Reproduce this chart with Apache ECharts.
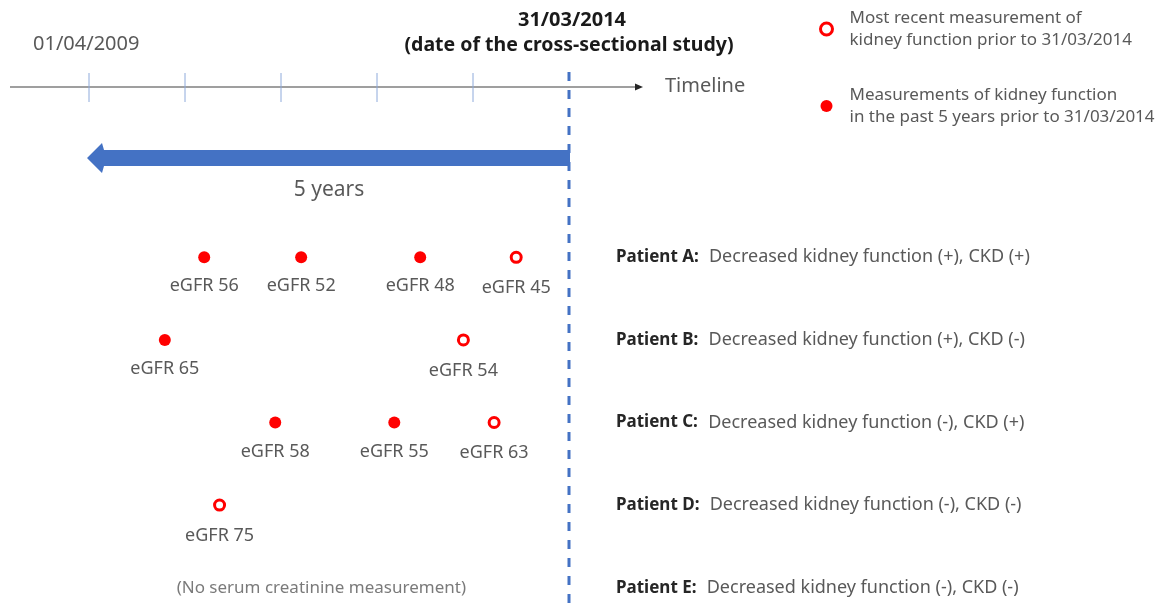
<!DOCTYPE html>
<html>
<head>
<meta charset="utf-8">
<script src="https://cdn.jsdelivr.net/npm/echarts@6/dist/echarts.min.js"></script>
<style>
    html, body { margin: 0; padding: 0; background: #fff; }
    #main { width: 1169px; height: 610px; }
</style>
</head>
<body>
<div id="main"></div>
<script>
    // x = years after 01/04/2009 (5 = 31/03/2014)
    var patients = ['A', 'B', 'C', 'D', 'E'];
    var findings = [
        'Decreased kidney function (+), CKD (+)',
        'Decreased kidney function (+), CKD (-)',
        'Decreased kidney function (-), CKD (+)',
        'Decreased kidney function (-), CKD (-)',
        'Decreased kidney function (-), CKD (-)'
    ];
    var pastPatient = ['A', 'A', 'A', 'B', 'C', 'C'];
    var pastYear = [1.20, 2.21, 3.45, 0.79, 1.94, 3.18];
    var pastEgfr = [56, 52, 48, 65, 58, 55];
    var recentPatient = ['A', 'B', 'C', 'D'];
    var recentYear = [4.45, 3.90, 4.22, 1.36];
    var recentEgfr = [45, 54, 63, 75];
    var yearTicks = [0, 1, 2, 3, 4];
    var noteYear = 2.42;

    var gray = '#595959';
    var font = '"Noto Sans", sans-serif';
    var recentName = 'Most recent measurement of\nkidney function prior to 31/03/2014';
    var pastName = 'Measurements of kidney function\nin the past 5 years prior to 31/03/2014';

    var egfrLabel = function (d) {
        return {
            show: true,
            position: 'bottom',
            distance: d,
            color: gray,
            fontSize: 18,
            lineHeight: 20,
            fontFamily: font,
            formatter: function (p) { return 'eGFR ' + p.value[2]; }
        };
    };

    var chart = echarts.init(document.getElementById('main'));
    var option = {
        animation: false,
        textStyle: { fontFamily: font },
        grid: { left: 89, width: 480, top: 216, height: 413, outerBoundsMode: 'none' },
        xAxis: {
            type: 'value', min: 0, max: 5,
            axisLine: { show: false }, axisTick: { show: false },
            axisLabel: { show: false }, splitLine: { show: false }
        },
        yAxis: {
            type: 'category',
            data: patients,
            inverse: true,
            position: 'right',
            axisLine: { show: false }, axisTick: { show: false }, splitLine: { show: false },
            axisLabel: {
                margin: 47,
                formatter: function (v, i) {
                    return '{b|Patient ' + v + ':}  {n|' + findings[i] + '}';
                },
                rich: {
                    b: { fontWeight: 'bold', color: '#262626', fontSize: 17, fontFamily: font },
                    n: { color: gray, fontSize: 18, fontFamily: font, padding: [0, 0, 0, 4] }
                }
            }
        },
        legend: {
            data: [
                { name: recentName, itemStyle: { color: '#fff', borderColor: '#ff0000', borderWidth: 3 } },
                { name: pastName }
            ],
            orient: 'vertical',
            left: 819, top: 7,
            padding: 0,
            itemWidth: 12, itemHeight: 12, itemGap: 33,
            icon: 'circle',
            selectedMode: false,
            textStyle: { color: gray, fontSize: 17, lineHeight: 22, fontFamily: font, padding: [0, 0, 0, 12] }
        },
        series: [
            {
                name: recentName,
                type: 'scatter',
                symbol: 'circle',
                symbolSize: 10,
                itemStyle: { color: '#fff', borderColor: '#ff0000', borderWidth: 3, opacity: 1 },
                label: egfrLabel(14),
                data: recentYear.map(function (x, i) { return [x, recentPatient[i], recentEgfr[i]]; })
            },
            {
                name: pastName,
                type: 'scatter',
                symbol: 'circle',
                symbolSize: 12,
                itemStyle: { color: '#ff0000', opacity: 1 },
                label: egfrLabel(13),
                data: pastYear.map(function (x, i) { return [x, pastPatient[i], pastEgfr[i]]; })
            },
            {
                name: 'note',
                type: 'scatter',
                symbolSize: 0,
                silent: true,
                label: {
                    show: true, position: 'inside', color: gray, fontSize: 17, fontFamily: font,
                    formatter: '(No serum creatinine measurement)'
                },
                data: [[noteYear, 'E']]
            }
        ]
    };
    chart.setOption(option);

    var x0 = chart.convertToPixel({ xAxisIndex: 0 }, 0);
    var x5 = chart.convertToPixel({ xAxisIndex: 0 }, 5);

    var txt = function (s, x, y, size, align, bold, color) {
        return {
            type: 'text', silent: true,
            style: {
                text: s, x: x, y: y, align: align, verticalAlign: 'middle',
                font: (bold ? 'bold ' : '') + size + 'px ' + font,
                fill: color
            }
        };
    };

    var els = [];
    // timeline
    els.push({ type: 'line', silent: true, shape: { x1: 10, y1: 87, x2: 638, y2: 87 }, style: { stroke: '#7f7f7f', lineWidth: 1.5 } });
    els.push({ type: 'polygon', silent: true, shape: { points: [[635, 83.5], [643, 87], [635, 90.5]] }, style: { fill: '#262626' } });
    yearTicks.forEach(function (t) {
        var x = chart.convertToPixel({ xAxisIndex: 0 }, t);
        els.push({ type: 'line', silent: true, shape: { x1: x, y1: 73, x2: x, y2: 102 }, style: { stroke: '#8eaadb', lineWidth: 1 } });
    });
    // 5-year arrow
    els.push({
        type: 'polygon', silent: true,
        shape: { points: [[x5 + 1, 150], [x0 + 15, 150], [x0 + 13, 143], [x0 - 2, 158], [x0 + 13, 173], [x0 + 15, 166], [x5 + 1, 166]] },
        style: { fill: '#4472c4' }
    });
    // study date line
    els.push({ type: 'line', silent: true, shape: { x1: x5, y1: 72, x2: x5, y2: 610 }, style: { stroke: '#4472c4', lineWidth: 3, lineDash: [9, 9] } });

    els.push(txt('01/04/2009', 33, 44, 20, 'left', false, gray));
    els.push(txt('31/03/2014', x5 + 3, 20, 20, 'center', true, '#1a1a1a'));
    els.push(txt('(date of the cross-sectional study)', x5, 45, 19.5, 'center', true, '#1a1a1a'));
    els.push(txt('Timeline', 665, 86, 20, 'left', false, gray));
    els.push(txt('5 years', (x0 + x5) / 2, 190, 21, 'center', false, gray));

    chart.setOption({ graphic: { elements: els } });
</script>
</body>
</html>
